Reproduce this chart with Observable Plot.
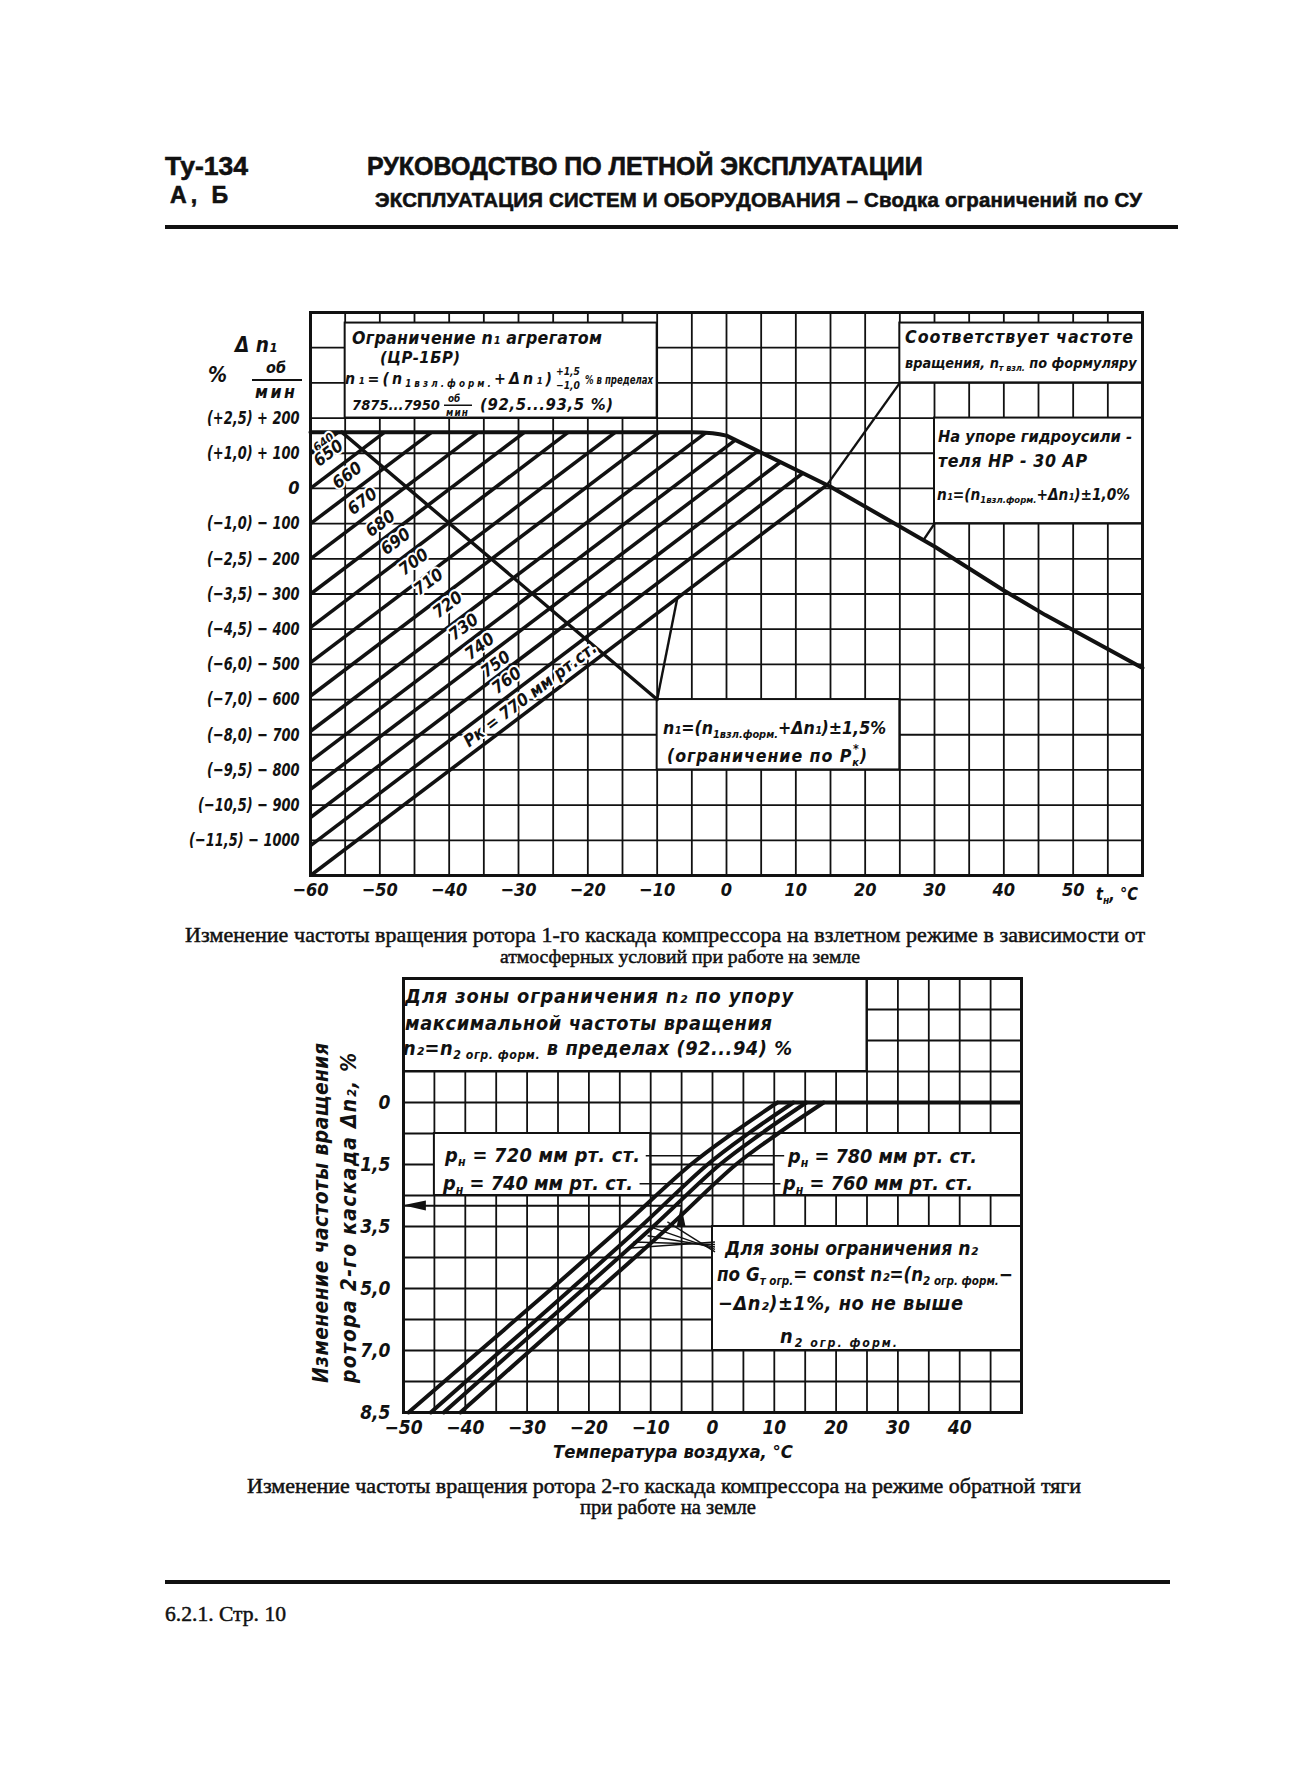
<!DOCTYPE html>
<html><head><meta charset="utf-8">
<script src="https://cdn.jsdelivr.net/npm/d3@7"></script>
<script src="https://cdn.jsdelivr.net/npm/@observablehq/plot@0.6"></script>
<style>
html,body{margin:0;padding:0;background:#fff;}
#page{position:relative;width:1300px;height:1782px;overflow:hidden;background:#fff;}
#overlay{position:absolute;left:0;top:0;pointer-events:none;}
.hd{font-family:"Liberation Sans",Arial,sans-serif;font-weight:bold;fill:#111;stroke:#111;stroke-width:0.6;}
.cap{font-family:"Liberation Serif","Times New Roman",serif;fill:#111;stroke:#111;stroke-width:0.5;}
.an{font-family:"DejaVu Sans Condensed","DejaVu Sans",sans-serif;font-style:italic;font-weight:bold;fill:#111;}
</style></head><body><div id="page"></div>
<script>
const INK = "#111";
const FONT = '"DejaVu Sans Condensed","DejaVu Sans",sans-serif';

// ---------------- Chart 1 data ----------------
const tempTicks1 = [-60, -50, -40, -30, -20, -10, 0, 10, 20, 30, 40, 50];
const dn1Ticks = [200, 100, 0, -100, -200, -300, -400, -500, -600, -700, -800, -900, -1000];
const dn1PctLabels = ["(+2,5)", "(+1,0)", "", "(−1,0)", "(−2,5)", "(−3,5)", "(−4,5)", "(−6,0)", "(−7,0)", "(−8,0)", "(−9,5)", "(−10,5)", "(−11,5)"];
// pressure lines Pk (mm Hg): start on left edge (t = -60), end on the limit curve
const pkValues  = [640, 650, 660, 670, 680, 690, 700, 710, 720, 730, 740, 750, 760, 770];
const pkStartDn = [100, 0, -100, -200, -300, -395, -495, -590, -690, -775, -855, -935, -1015, -1100];
const pkEndT    = [-56, -49.3, -42.5, -35.8, -29.1, -22.8, -16, -9.7, -3, 1.3, 4.5, 7.8, 11, 14.5];
const pkEndDn   = [160, 160, 160, 160, 160, 160, 160, 160, 158, 138, 106, 75, 43, 10];
// upper limit curve (aggregate limit, then hydro-amplifier stop)
const limitT  = [-60, -5, -3.5, -2, -1, 0, 15, 30, 40, 46, 60];
const limitDn = [160, 160, 159, 157, 154, 150, 5, -165, -290, -360, -510];
// Pk* limit line and leader lines
const pkLimitT  = [-55.5, -10];
const pkLimitDn = [160, -600];
const leader1 = {t1: -10, d1: -600, t2: -7.1, d2: -312};
const leader2 = {t1: 14.5, d1: 10, t2: 25, d2: 300};
const leader3 = {t1: 28.4, d1: -147, t2: 30, d2: -100};
// anchor points for the pressure labels (annotation layout)
const pkLabelT  = [-58.1, -57.4, -54.7, -52.5, -49.9, -47.7, -45.1, -43, -40.2, -37.9, -35.6, -33.3, -31.7, -28.3];
const pkLabelDn = [131, 100, 37, -37, -100, -151, -209, -266, -331, -394, -449, -500, -546, -586];
const boxes1 = [
  {x1: -55, x2: -10, y1: 200, y2: 470},
  {x1: 25, x2: 60, y1: 300, y2: 470},
  {x1: 30, x2: 60, y1: -100, y2: 200},
  {x1: -10, x2: 25, y1: -800, y2: -600}
];

// ---------------- Chart 2 data ----------------
const tempTicks2 = [-50, -40, -30, -20, -10, 0, 10, 20, 30, 40];
const dn2Rows = [0, 2, 4, 6, 8, 10];
const dn2Labels = ["0", "1,5", "3,5", "5,0", "7,0", "8,5"];
const pHValues = [720, 740, 760, 780];
const curveRows = [10, 8, 6, 4, 2, 1, 0];
const curveT720 = [-49.2, -37.6, -26, -14.6, -3.5, 3.2, 10.5];
const curveT740 = [-45.6, -34.2, -22.8, -11.6, -0.8, 5.8, 13.1];
const curveT760 = [-43.5, -32.2, -20.8, -9.6, 1.2, 7.9, 15.2];
const curveT780 = [-40.8, -29.5, -18.2, -7, 3.8, 10.6, 18];
const maxLineT = [10.5, 50];
const boxes2 = [
  {x1: -50, x2: 25, y1: -4, y2: -1},
  {x1: -45, x2: -10, y1: 1, y2: 3},
  {x1: 10, x2: 50, y1: 1, y2: 3},
  {x1: 0, x2: 50, y1: 4, y2: 8}
];
const leaders2 = [
  {t1: -10.8, r1: 1.72, t2: -1.5, r2: 1.72},
  {t1: -11.8, r1: 2.62, t2: -4.0, r2: 2.62},
  {t1: 5.8, r1: 1.72, t2: 11.6, r2: 1.72},
  {t1: -2.3, r1: 2.62, t2: 11.0, r2: 2.62}
];
const fanEndT = [-13.8, -12.8, -10.5, -9.5, -7.3];
const fanEndR = [4.7, 4.5, 4.3, 4.05, 3.85];
const fanStartR = [4.5, 4.58, 4.66, 4.74, 4.82];
const readArrow = {t1: -5, t2: -50, r: 3.33};

// ---------------- build tables ----------------
const pkRows = pkValues.map((pk, i) => ({pk, d1: pkStartDn[i], t2: pkEndT[i], d2: pkEndDn[i], lt: pkLabelT[i], ld: pkLabelDn[i]}));
const limitRows = limitT.map((t, i) => ({t, dn: limitDn[i]}));
const curveCols = [curveT720, curveT740, curveT760, curveT780];
const curveTable = pHValues.flatMap((p, k) => curveRows.map((r, i) => ({pH: p, row: r, t: curveCols[k][i]})));
const fanRows = fanEndT.map((t, i) => ({t1: 0.4, r1: fanStartR[i], t2: t, r2: fanEndR[i]}));

const styleBase = {fontFamily: FONT, fontStyle: "italic", fontWeight: "bold", background: "transparent", overflow: "visible", color: INK};

const chart1 = Plot.plot({
  width: 1300, height: 620,
  marginLeft: 310, marginRight: 158, marginTop: 22, marginBottom: 35,
  x: {domain: [-60, 60], ticks: tempTicks1, tickSize: 0, tickPadding: 8, label: null},
  y: {domain: [-1100, 500], ticks: dn1Ticks, tickSize: 0, tickPadding: 11, label: null,
      tickFormat: d => {
        const i = dn1Ticks.indexOf(d);
        return d === 0 ? "0" : `${dn1PctLabels[i]} ${d > 0 ? "+" : "−"} ${Math.abs(d)}`;
      }},
  style: {...styleBase, fontSize: "18px"},
  marks: [
    Plot.ruleX(d3.range(-60, 61, 5), {stroke: INK, strokeWidth: 1.8}),
    Plot.ruleY(d3.range(-1100, 501, 100), {stroke: INK, strokeWidth: 1.8}),
    Plot.rect(boxes1, {x1: "x1", x2: "x2", y1: "y1", y2: "y2", fill: "white", stroke: INK, strokeWidth: 2}),
    Plot.link(pkRows, {x1: -60, y1: "d1", x2: "t2", y2: "d2", stroke: INK, strokeWidth: 3.6}),
    Plot.line(limitRows, {x: "t", y: "dn", stroke: INK, strokeWidth: 4, strokeLinejoin: "round"}),
    Plot.line(pkLimitT.map((t, i) => ({t, dn: pkLimitDn[i]})), {x: "t", y: "dn", stroke: INK, strokeWidth: 3.4}),
    Plot.link([leader1, leader2, leader3], {x1: "t1", y1: "d1", x2: "t2", y2: "d2", stroke: INK, strokeWidth: 2.4}),
    Plot.text(pkRows, {x: "lt", y: "ld", text: d => d.pk === 770 ? "Pк = 770 мм рт.ст." : String(d.pk),
      rotate: -37, fontSize: d => d.pk === 640 ? 12 : 17, fill: INK, stroke: "white", strokeWidth: 4, paintOrder: "stroke"}),
    Plot.frame({stroke: INK, strokeWidth: 3})
  ]
});

const chart2 = Plot.plot({
  width: 1300, height: 520,
  marginLeft: 403, marginRight: 279, marginTop: 18, marginBottom: 68,
  x: {domain: [-50, 50], ticks: tempTicks2, tickSize: 0, tickPadding: 8, label: null},
  y: {domain: [-4, 10], reverse: true, ticks: dn2Rows, tickSize: 0, tickPadding: 13, label: null,
      tickFormat: r => dn2Labels[dn2Rows.indexOf(r)]},
  style: {...styleBase, fontSize: "19px"},
  marks: [
    Plot.ruleX(d3.range(-50, 51, 5), {stroke: INK, strokeWidth: 1.8}),
    Plot.ruleY(d3.range(-4, 11, 1), {stroke: INK, strokeWidth: 1.8}),
    Plot.rect(boxes2, {x1: "x1", x2: "x2", y1: "y1", y2: "y2", fill: "white", stroke: INK, strokeWidth: 2}),
    Plot.link(leaders2, {x1: "t1", y1: "r1", x2: "t2", y2: "r2", stroke: INK, strokeWidth: 1.6}),
    Plot.line(curveTable, {x: "t", y: "row", z: "pH", stroke: INK, strokeWidth: 4, curve: "catmull-rom"}),
    Plot.ruleY([0], {x1: maxLineT[0], x2: maxLineT[1], stroke: INK, strokeWidth: 4}),
    Plot.link(fanRows, {x1: "t1", y1: "r1", x2: "t2", y2: "r2", stroke: INK, strokeWidth: 1.4}),
    Plot.link([readArrow], {x1: "t1", y1: "r", x2: "t2", y2: "r", stroke: INK, strokeWidth: 2}),
    Plot.areaY([{t: -50, a: 3.33, b: 3.33}, {t: -46.3, a: 3.18, b: 3.5}], {x: "t", y1: "a", y2: "b", fill: INK}),
    Plot.areaX([{r: 3.33, a: -5, b: -5}, {r: 4.0, a: -5.7, b: -4.3}], {y: "r", x1: "a", x2: "b", fill: INK}),
    Plot.frame({stroke: INK, strokeWidth: 3})
  ]
});

const page = document.getElementById("page");
for (const [el, top] of [[chart1, 290], [chart2, 960]]) {
  el.style.position = "absolute";
  el.style.left = "0px";
  el.style.top = top + "px";
  el.style.maxWidth = "none";
  page.appendChild(el);
}
// narrow the long Δn1 tick labels like the drafting lettering
[...chart1.querySelectorAll("text")]
  .filter(t => ((t.closest("g[aria-label]") || {getAttribute: () => ""}).getAttribute("aria-label") || "").includes("y-axis"))
  .forEach(t => {
    const w = t.getComputedTextLength();
    if (w > 40) { t.setAttribute("textLength", (w * 0.8).toFixed(1)); t.setAttribute("lengthAdjust", "spacingAndGlyphs"); }
  });

// ---------------- overlay texts (one text element per line) ----------------
const NS = "http://www.w3.org/2000/svg";
const overlay = document.createElementNS(NS, "svg");
overlay.setAttribute("id", "overlay");
overlay.setAttribute("width", 1300);
overlay.setAttribute("height", 1782);
page.appendChild(overlay);

function mk(cls) {
  const t = document.createElementNS(NS, "text");
  t.setAttribute("class", cls);
  overlay.appendChild(t);
  return t;
}
function put(x, y, cls, size, html, target, opts = {}) {
  const t = mk(cls);
  t.setAttribute("x", x);
  t.setAttribute("y", y);
  t.setAttribute("font-size", size);
  if (opts.anchor) t.setAttribute("text-anchor", opts.anchor);
  if (opts.transform) t.setAttribute("transform", opts.transform);
  t.innerHTML = html;
  if (target) {
    let w = t.getComputedTextLength();
    const lo = opts.minScale ?? 0.84, hi = opts.maxScale ?? 1.1;
    const s = Math.min(Math.max(size * target / w, size * lo), size * hi);
    t.setAttribute("font-size", s.toFixed(2));
    w = t.getComputedTextLength();
    if (Math.abs(w - target) > 1) {
      t.setAttribute("textLength", target);
      t.setAttribute("lengthAdjust", w > target ? "spacingAndGlyphs" : "spacing");
    }
  }
  return t;
}
function bar(x, y, w, h) {
  const r = document.createElementNS(NS, "rect");
  r.setAttribute("x", x); r.setAttribute("y", y); r.setAttribute("width", w); r.setAttribute("height", h);
  r.setAttribute("fill", INK);
  overlay.appendChild(r);
}
const sb = s => `<tspan font-size="0.62em" baseline-shift="-0.35em">${s}</tspan>`;

// header
put(165, 175, "hd", 25, "Ту-134", 83);
put(170, 203, "hd", 21, "А, Б", 58);
put(367, 175, "hd", 24, "РУКОВОДСТВО ПО ЛЕТНОЙ ЭКСПЛУАТАЦИИ", 556);
put(375, 207, "hd", 17, "ЭКСПЛУАТАЦИЯ СИСТЕМ И ОБОРУДОВАНИЯ – Сводка ограничений по СУ", 767, {maxScale: 1.2});
bar(165, 225, 1013, 4);

// chart 1 axis titles
put(235, 352, "an", 24, "Δ n₁", 42);
put(208, 382, "an", 21, "%", 19);
put(266, 373, "an", 16, "об", 20);
bar(252, 379, 50, 2);
put(255, 398, "an", 16, "мин", 40);
put(1096, 900, "an", 21, "t" + sb("н") + ", °C", 42);

// box A
put(352, 344, "an", 16, "Ограничение  n₁  агрегатом", 250);
put(380, 363, "an", 15, "(ЦР-1БР)", 80);
put(345, 384, "an", 15, "n₁=(n" + sb("1взл.форм.") + "+Δn₁)", 207, {maxScale: 1.05});
put(556, 375, "an", 10, "+1,5", 24);
put(556, 389, "an", 10, "−1,0", 24);
put(585, 384, "an", 15, "%  в пределах", 68);
put(352, 410, "an", 15, "7875...7950", 88);
put(448, 402, "an", 9, "об", 13);
bar(444, 404.5, 28, 1.5);
put(446, 416, "an", 9, "мин", 22);
put(480, 410, "an", 15, "(92,5...93,5 %)", 133);

// box B
put(905, 343, "an", 16, "Соответствует  частоте", 228);
put(905, 368, "an", 16, "вращения, n" + sb("т взл.") + " по формуляру", 232);
// box C
put(938, 442, "an", 16, "На упоре гидроусили -", 194);
put(938, 467, "an", 16, "теля   НР - 30 АР", 149);
put(937, 500, "an", 16, "n₁=(n" + sb("1взл.форм.") + "+Δn₁)±1,0%", 193);
// box D
put(663, 734, "an", 16, "n₁=(n" + sb("1взл.форм.") + "+Δn₁)±1,5%", 223);
put(667, 762, "an", 16, "(ограничение  по  P" + sb("к") + `<tspan font-size="0.7em" baseline-shift="0.7em" dx="-0.55em">*</tspan>` + ")", 200);

// captions chart 1
put(185, 942, "cap", 20, "Изменение частоты вращения ротора 1-го каскада компрессора на взлетном режиме в зависимости от", 960);
put(500, 963, "cap", 20, "атмосферных условий при работе на земле", 360);

// chart 2 box 1
put(405, 1003, "an", 18, "Для  зоны  ограничения  n₂  по  упору", 388);
put(405, 1030, "an", 18, "максимальной  частоты  вращения", 367);
put(403, 1055, "an", 18, "n₂=n" + sb("2 огр. форм.") + " в пределах (92...94) %", 389);
// chart 2 pressure labels
put(445, 1162, "an", 18, "p" + sb("н") + " = 720 мм рт. ст.", 195);
put(443, 1190, "an", 18, "p" + sb("н") + " = 740 мм рт. ст.", 190);
put(788, 1163, "an", 18, "p" + sb("н") + " = 780 мм рт. ст.", 189);
put(783, 1190, "an", 18, "p" + sb("н") + " = 760 мм рт. ст.", 190);
// chart 2 box 3
put(725, 1255, "an", 18, "Для зоны ограничения n₂", 253);
put(717, 1281, "an", 18, "по G" + sb("т огр.") + "= const n₂=(n" + sb("2 огр. форм.") + "−", 296);
put(718, 1310, "an", 18, "−Δn₂)±1%,  но не выше", 245);
put(780, 1343, "an", 18, "n" + sb("2 огр. форм."), 117);
// chart 2 axis titles
put(0, 0, "an", 19, "Изменение   частоты   вращения", 340, {anchor: "middle", transform: "translate(328,1213) rotate(-90)"});
put(0, 0, "an", 19, "ротора  2-го  каскада  Δn₂, %", 330, {anchor: "middle", transform: "translate(356,1218) rotate(-90)"});
put(553, 1458, "an", 19, "Температура   воздуха, °С", 240);

// captions chart 2
put(247, 1493, "cap", 20, "Изменение частоты вращения ротора 2-го каскада компрессора на режиме обратной тяги", 835);
put(580, 1514, "cap", 20, "при работе на земле", 176);
// footer
bar(165, 1580, 1005, 4);
put(165, 1621, "cap", 20, "6.2.1. Стр. 10", 121);
</script></body></html>
